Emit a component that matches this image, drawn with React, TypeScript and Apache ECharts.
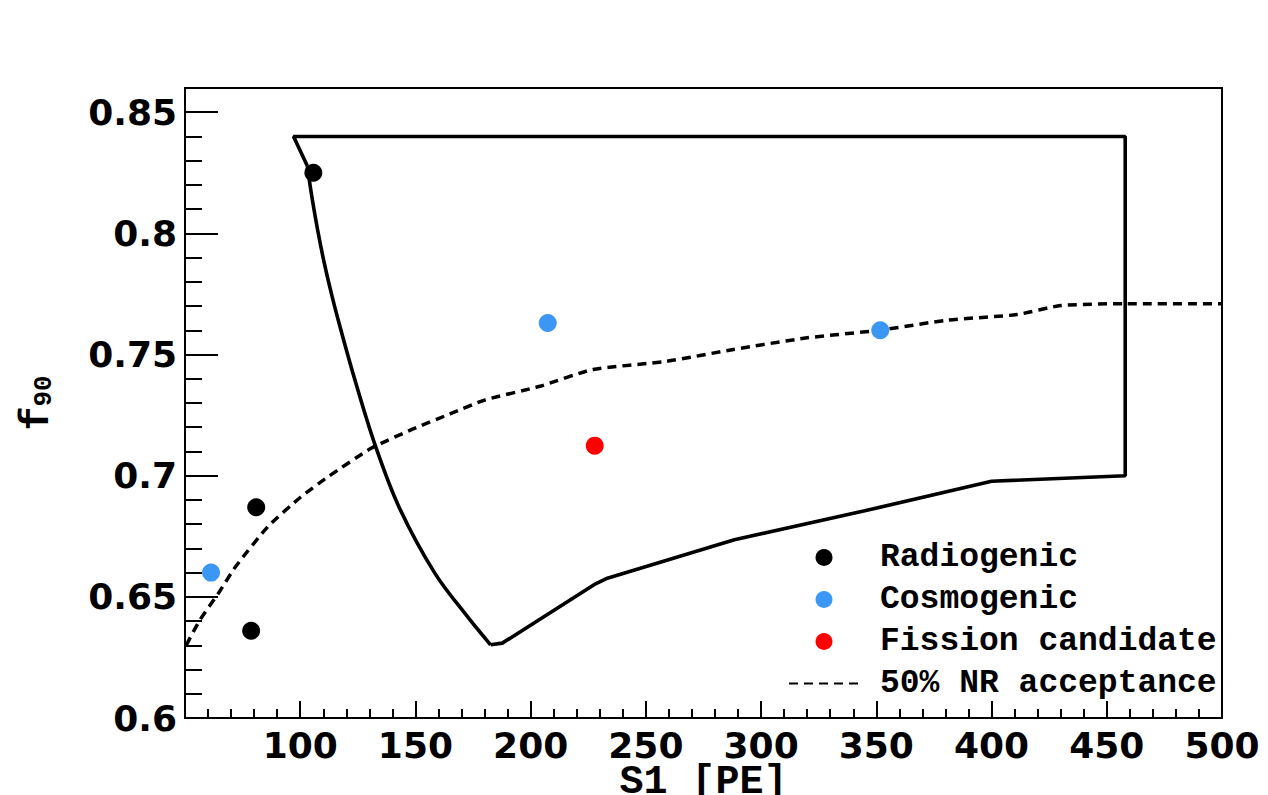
import { useEffect, useRef } from "react";
import * as echarts from "echarts";

// Event populations: [S1 (PE), f90]
const radiogenic: number[][] = [
  [105.7, 0.825],
  [80.9, 0.687],
  [78.7, 0.636],
];
const cosmogenic: number[][] = [
  [61.3, 0.66],
  [207.4, 0.763],
  [351.7, 0.76],
];
const fissionCandidate: number[][] = [[227.8, 0.7124]];

// 50% nuclear-recoil acceptance curve
const nrAcceptance: number[][] = [
  [50.5, 0.63], [56.5, 0.6405], [64.5, 0.6515], [72, 0.6625], [86, 0.679],
  [100, 0.691], [112, 0.6995], [131, 0.7114], [149, 0.7193], [165, 0.7255],
  [180, 0.7312], [204, 0.7369], [227, 0.7438], [259, 0.7472], [288, 0.7521],
  [320, 0.7569], [351, 0.76], [381, 0.7642], [411, 0.7665], [430, 0.7702],
  [458, 0.771], [500, 0.771],
];

// Acceptance region boundary: straight edges (top, right, lower edge)
const regionEdges: number[][] = [
  [103.1, 0.8278], [97.1, 0.84], [458, 0.84], [458, 0.7], [400, 0.6977],
  [345, 0.6855], [288.4, 0.6736], [233.3, 0.6577], [227.5, 0.655],
  [187.7, 0.6309], [182.6, 0.6302],
];
// Acceptance region boundary: curved low-S1 edge
const regionCurve: number[][] = [
  [182.6, 0.6302], [172.5, 0.6419], [158.4, 0.6598], [143, 0.6868],
  [132.7, 0.7121], [123.8, 0.7393], [117.6, 0.7603], [113.8, 0.7741],
  [110.4, 0.7879], [107.5, 0.8017], [105, 0.8154], [103.1, 0.8278],
];

const legendNames = ["Radiogenic", "Cosmogenic", "Fission candidate", "50% NR acceptance"];
const xRange = [50, 500];
const yRange = [0.6, 0.86];

const MONO = "'Liberation Mono', 'Courier New', monospace";
const SANS = "'DejaVu Sans', Verdana, sans-serif";

export default function App() {
  const ref = useRef<HTMLDivElement>(null);

  useEffect(() => {
    if (!ref.current) return;
    const chart = echarts.init(ref.current, null, { renderer: "svg" });
    const boundaryStyle = { color: "#000", width: 3.6 };
    chart.setOption({
      animation: false,
      backgroundColor: "#ffffff",
      grid: {
        left: 185,
        right: 46,
        top: 88,
        bottom: 77,
        outerBoundsMode: "none",
        containLabel: false,
        show: true,
        borderColor: "#000",
        borderWidth: 2,
        backgroundColor: "transparent",
      },
      legend: {
        orient: "vertical",
        left: 788,
        top: 541,
        padding: 0,
        itemWidth: 70,
        itemHeight: 17,
        itemGap: 9,
        data: [
          legendNames[0],
          legendNames[1],
          legendNames[2],
          { name: legendNames[3], itemStyle: { opacity: 0 } },
        ],
        textStyle: {
          fontFamily: MONO,
          fontWeight: "bold",
          fontSize: 33,
          color: "#000",
          lineHeight: 33,
          padding: [0, 0, 0, 16],
        },
      },
      xAxis: {
        type: "value",
        min: xRange[0],
        max: xRange[1],
        interval: 50,
        name: "S1 [PE]",
        nameLocation: "middle",
        nameMoveOverlap: false,
        nameGap: 50,
        nameTextStyle: {
          fontFamily: MONO,
          fontWeight: "bold",
          fontSize: 40,
          lineHeight: 28,
          color: "#000",
        },
        axisLine: { show: true, lineStyle: { color: "#000", width: 2 } },
        axisTick: { show: true, inside: true, length: 17, lineStyle: { color: "#000", width: 2 } },
        minorTick: { show: true, splitNumber: 5, length: 9, lineStyle: { color: "#000", width: 2 } },
        splitLine: { show: false },
        axisLabel: {
          showMinLabel: false,
          margin: 9,
          fontFamily: SANS,
          fontWeight: "bold",
          fontSize: 36,
          color: "#000",
        },
      },
      yAxis: [
        {
          type: "value",
          min: yRange[0],
          max: yRange[1],
          interval: 0.05,
          position: "left",
          name: "{f|f}{s|90}",
          nameLocation: "middle",
          nameMoveOverlap: false,
          nameRotate: 90,
          nameGap: 128,
          nameTextStyle: {
            rich: {
              f: { fontFamily: MONO, fontWeight: "bold", fontSize: 40, color: "#000", lineHeight: 40 },
              s: {
                fontFamily: MONO,
                fontWeight: "bold",
                fontSize: 26,
                color: "#000",
                lineHeight: 40,
                padding: [14, 0, 0, 0],
              },
            },
          },
          axisLine: { show: true, lineStyle: { color: "#000", width: 2 } },
          axisTick: { show: true, inside: true, length: 33, lineStyle: { color: "#000", width: 2 } },
          splitLine: { show: false },
          axisLabel: {
            showMaxLabel: false,
            margin: 8,
            fontFamily: SANS,
            fontWeight: "bold",
            fontSize: 36,
            color: "#000",
          },
        },
        {
          // minor ticks every 0.01
          type: "value",
          min: yRange[0],
          max: yRange[1],
          interval: 0.01,
          position: "left",
          offset: 0,
          axisLine: { show: false },
          axisTick: { show: true, inside: true, length: 17, lineStyle: { color: "#000", width: 2 } },
          axisLabel: { show: false },
          splitLine: { show: false },
        },
      ],
      series: [
        {
          name: "region edges",
          type: "line",
          data: regionEdges,
          showSymbol: false,
          symbol: "none",
          lineStyle: boundaryStyle,
          z: 2,
          silent: true,
        },
        {
          name: "region curve",
          type: "line",
          data: regionCurve,
          smooth: 0.35,
          showSymbol: false,
          symbol: "none",
          lineStyle: boundaryStyle,
          z: 2,
          silent: true,
        },
        {
          name: legendNames[3],
          type: "line",
          data: nrAcceptance,
          smooth: 0.2,
          showSymbol: false,
          symbol: "none",
          lineStyle: { color: "#000", width: 3.5, type: [9, 6] },
          itemStyle: { color: "#000" },
          z: 2,
        },
        {
          name: legendNames[0],
          type: "scatter",
          data: radiogenic,
          symbol: "circle",
          symbolSize: 18,
          itemStyle: { color: "#000", opacity: 1 },
          z: 3,
        },
        {
          name: legendNames[1],
          type: "scatter",
          data: cosmogenic,
          symbol: "circle",
          symbolSize: 18,
          itemStyle: { color: "#3b97f3", opacity: 1 },
          z: 3,
        },
        {
          name: legendNames[2],
          type: "scatter",
          data: fissionCandidate,
          symbol: "circle",
          symbolSize: 18,
          itemStyle: { color: "#ff0000", opacity: 1 },
          z: 3,
        },
      ],
    });
    return () => chart.dispose();
  }, []);

  return (
    <div
      ref={ref}
      style={{ position: "absolute", left: 0, top: 0, width: 1268, height: 795 }}
    />
  );
}
